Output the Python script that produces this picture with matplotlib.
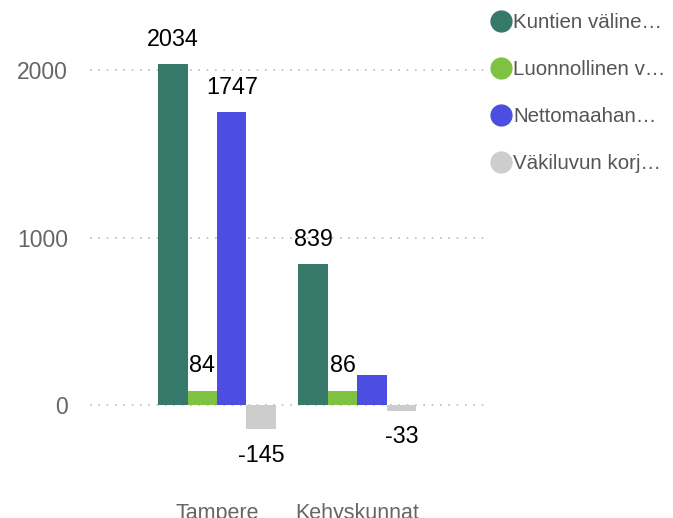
import numpy as np
import matplotlib.pyplot as plt
from matplotlib.lines import Line2D

plt.rcParams['font.family'] = ['Liberation Sans', 'DejaVu Sans']

# data
categories = ['Tampere', 'Kehyskunnat']
series_names = ['Kuntien väline…', 'Luonnollinen v…', 'Nettomaahan…', 'Väkiluvun korj…']
kuntien = [2034, 839]
luonnollinen = [84, 86]
nettomaahan = [1747, 178]
korjaus = [-145, -33]
# which value labels are visible in the original
show_label = [[True, True], [True, True], [True, False], [True, True]]

colors = ['#36786a', '#7fc241', '#4b4ee0', '#cdcdcd']
series = [kuntien, luonnollinen, nettomaahan, korjaus]

fig = plt.figure(figsize=(6.73, 5.18), dpi=100)
W, H = 673, 518
ax_left, ax_right = 90, 485
ax_top, ax_bot = 20, 490
ax = fig.add_axes([ax_left / W, 1 - ax_bot / H, (ax_right - ax_left) / W, (ax_bot - ax_top) / H])

x = np.arange(len(categories))
bw = 0.21
for i, (vals, c) in enumerate(zip(series, colors)):
    offs = (i - 1.5) * bw
    bars = ax.bar(x + offs, vals, width=bw, color=c, zorder=3)
    for j, (b, v) in enumerate(zip(bars, vals)):
        if not show_label[i][j]:
            continue
        dy = 18 if v >= 0 else -19
        ax.annotate(str(v), (b.get_x() + b.get_width() / 2, v), xytext=(0, dy),
                    textcoords='offset points', ha='center', va='center',
                    fontsize=16.8, color='black', zorder=4)

# y scale: 0 at px 405, 2000 at px 70
ppu = (405 - 70) / 2000
ax.set_ylim((405 - ax_bot) / ppu, (405 - ax_top) / ppu)
ax.set_xlim(-0.905, 1.91)
ax.set_yticks([0, 1000, 2000])
ax.set_xticks(x)
ax.set_xticklabels(categories)
ax.grid(axis='y', linestyle=(0, (1, 4)), color='#bbbbbb', linewidth=1.2, zorder=0)
for s in ax.spines.values():
    s.set_visible(False)
ax.tick_params(axis='y', length=0, labelsize=16.5, colors='#666666', pad=16)
ax.tick_params(axis='x', length=0, labelsize=15.5, colors='#666666', pad=9)

handles = [Line2D([], [], marker='o', linestyle='', markersize=15, color=c) for c in colors]
fig.legend(handles, series_names, loc='upper left', bbox_to_anchor=(480 / W, 1 - 5 / H),
           frameon=False, fontsize=14.8, labelcolor='#555555', handletextpad=0.0,
           labelspacing=1.36, handlelength=1.2, borderaxespad=0)

fig.savefig('out.png', dpi=100)
